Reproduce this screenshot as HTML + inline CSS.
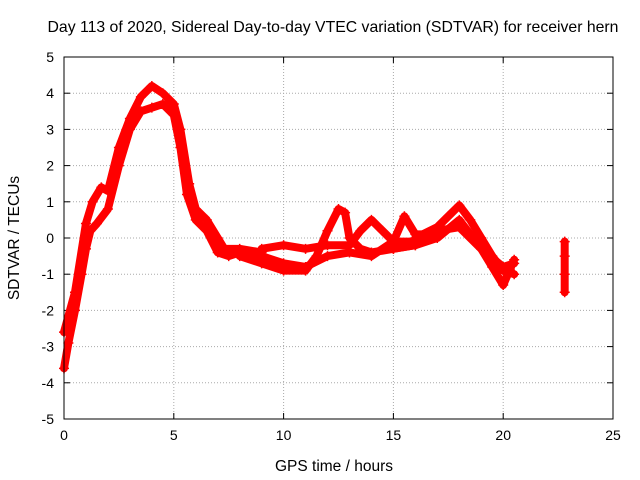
<!DOCTYPE html>
<html><head><meta charset="utf-8"><style>
body{margin:0;background:#fff;}
svg{display:block;font-family:"Liberation Sans",sans-serif;}
</style></head><body>
<svg id="chart" width="640" height="480">
<text x="333" y="32" text-anchor="middle" font-size="15.8">Day 113 of 2020, Sidereal Day-to-day VTEC variation (SDTVAR) for receiver hern</text>
<text x="334" y="471" text-anchor="middle" font-size="15.5">GPS time / hours</text>
<text transform="translate(19,238) rotate(-90)" text-anchor="middle" font-size="15.5">SDTVAR / TECUs</text>
<g id="grid"></g><g id="series"></g>
<rect x="64" y="57" width="549" height="362" fill="none" stroke="#000"/>
</svg>
<script>
const xTicks=[0,5,10,15,20,25];
const yTicks=[-5,-4,-3,-2,-1,0,1,2,3,4,5];
const trackA=[[0,-3.6],[0.2,-2.9],[0.5,-2.0],[0.8,-1.0],[1.0,-0.3],[1.2,0.2],[1.5,0.4],[2,0.8],[2.5,2.0],[3,3.0],[3.5,3.5],[4,3.6],[4.5,3.7],[5,3.4],[5.3,2.5],[5.6,1.2],[6,0.5],[6.5,0.2],[7,-0.4],[7.5,-0.5],[8,-0.4],[9,-0.5],[10,-0.7],[11,-0.8],[12,-0.5],[13,-0.4],[14,-0.5],[15,-0.1],[16,-0.1],[17,0.2],[18,0.3],[19,-0.3],[20,-0.8],[20.5,-0.7]];
const trackB=[[0,-2.6],[0.5,-1.5],[1,0.4],[1.3,1.0],[1.7,1.4],[2,1.3],[2.5,2.5],[3,3.3],[3.5,3.9],[4,4.2],[4.5,4.0],[5,3.7],[5.3,3.0],[5.7,1.5],[6,0.8],[6.5,0.5],[7,0.0],[7.3,-0.3],[8,-0.3],[9,-0.4]];
const trackC=[[8,-0.5],[9,-0.7],[10,-0.9],[11,-0.9],[11.5,-0.5],[12,0.2],[12.5,0.8],[12.8,0.7],[13,0.0],[13.5,-0.3],[14,-0.4],[15,-0.3],[16,-0.2]];
const trackD=[[9,-0.3],[10,-0.2],[11,-0.3],[12,-0.2],[13,-0.2],[13.5,0.2],[14,0.5],[14.5,0.2],[15,-0.1],[15.5,0.6],[16,0.1],[17,0.1]];
const trackE=[[16,0.0],[17,0.3],[17.5,0.6],[18,0.9],[18.5,0.5],[19,0.0],[19.5,-0.5],[20,-0.9],[20.5,-1.0]];
const trackF=[[15,-0.3],[16,-0.2],[17,0.0],[18,0.5],[19,-0.3],[19.5,-0.8],[20,-1.3],[20.5,-0.6]];
const trackG=[[22.8,-1.5],[22.8,-1.0],[22.8,-0.5],[22.8,-0.1]];
const tracks=[trackA,trackB,trackC,trackD,trackE,trackF,trackG];
const X0=64,X1=613,Y0=419,Y1=57;
const sx=v=>X0+(v-0)/(25-0)*(X1-X0);
const sy=v=>Y0-(v+5)/10*(Y0-Y1);
const NS="http://www.w3.org/2000/svg";
const grid=document.getElementById('grid'),ser=document.getElementById('series');
function mk(tag,at,parent){const e=document.createElementNS(NS,tag);for(const k in at)e.setAttribute(k,at[k]);parent.appendChild(e);return e;}
xTicks.forEach(t=>{const x=sx(t);
 if(t>0&&t<25){const l=mk('line',{x1:x,x2:x,y1:Y1,y2:Y0,stroke:'#aaa','stroke-dasharray':'1,2'},grid);
 
 }
 const tx=mk('text',{x:x,y:Y0+21,'text-anchor':'middle','font-size':'14'},grid);tx.textContent=t;
 
 
 mk('line',{x1:x,x2:x,y1:Y0,y2:Y0-6,stroke:'#000'},grid);mk('line',{x1:x,x2:x,y1:Y1,y2:Y1+6,stroke:'#000'},grid);});
yTicks.forEach(t=>{const y=sy(t);
 if(t>-5&&t<5){const l=mk('line',{x1:X0,x2:X1,y1:y,y2:y,stroke:'#aaa','stroke-dasharray':'1,2'},grid);
 
 }
 const tx=mk('text',{x:X0-10,y:y+5,'text-anchor':'end','font-size':'14'},grid);tx.textContent=t;
 
 
 mk('line',{x1:X0,x2:X0+6,y1:y,y2:y,stroke:'#000'},grid);mk('line',{x1:X1,x2:X1-6,y1:y,y2:y,stroke:'#000'},grid);});
tracks.forEach((tr,i)=>{
 const p=mk('polyline',{points:tr.map(d=>sx(d[0])+','+sy(d[1])).join(' '),fill:'none',stroke:'#f00','stroke-width':'8','stroke-linejoin':'round','stroke-linecap':'round'},ser);
 
 
 tr.forEach(d=>{const x=sx(d[0]),y=sy(d[1]);
  const m=mk('path',{d:`M${x-5},${y}H${x+5}M${x},${y-5}V${y+5}`,stroke:'#f00','stroke-width':'1.5'},ser);
  
  });
});
</script>
</body></html>
